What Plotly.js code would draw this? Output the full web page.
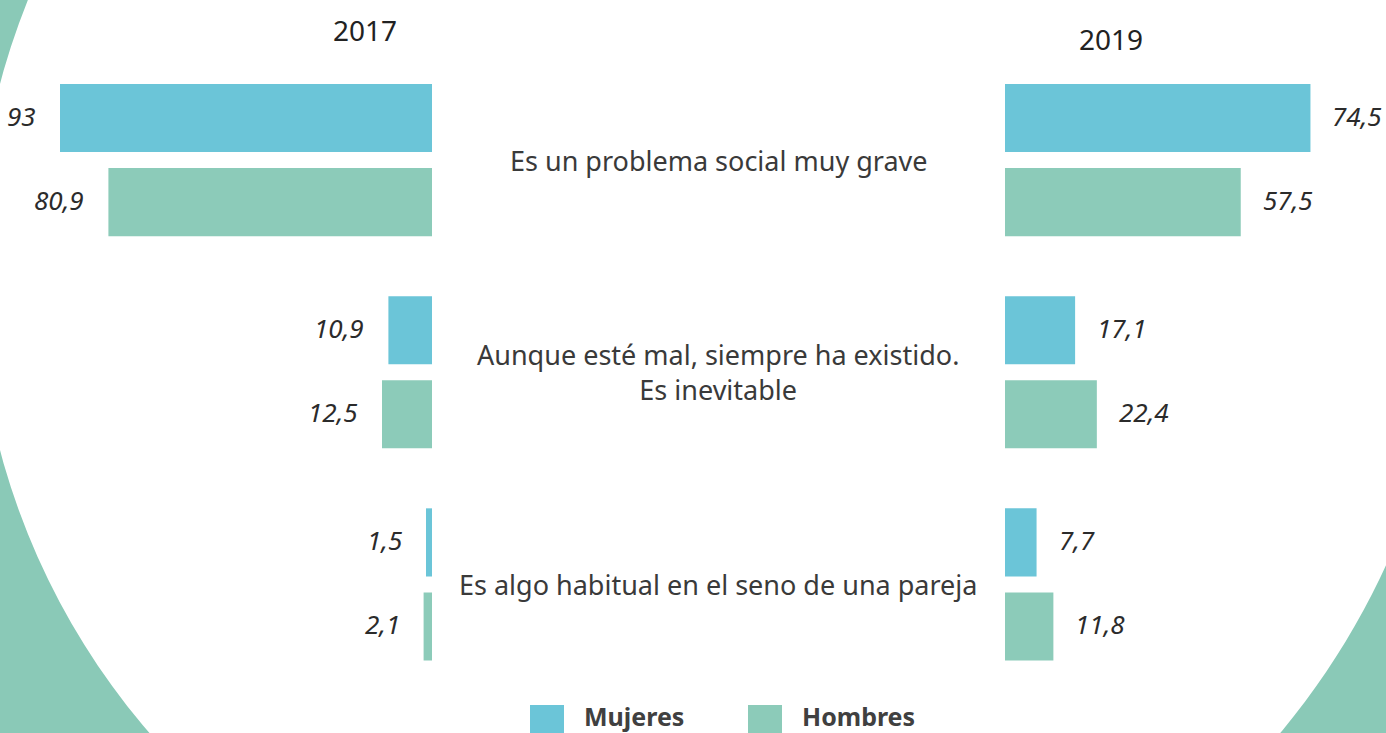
<!DOCTYPE html>
<html>
<head>
<meta charset="utf-8">
<script src="https://cdn.plot.ly/plotly-3.0.1.min.js"></script>
<style>
  body { margin: 0; background: #fff; }
  #chart { width: 1386px; height: 733px; }
</style>
</head>
<body>
<div id="chart"></div>
<script>
let categorias = [
  'Es un problema social muy grave',
  'Aunque esté mal, siempre ha existido.<br>Es inevitable',
  'Es algo habitual en el seno de una pareja'
]
let years = ['2017', '2019']
let series = ['Mujeres', 'Hombres']
let mujeres2017 = [93, 10.9, 1.5]
let hombres2017 = [80.9, 12.5, 2.1]
let mujeres2019 = [74.5, 17.1, 7.7]
let hombres2019 = [57.5, 22.4, 11.8]

let W = 1386
let H = 733
let colors = {Mujeres: '#6bc5d8', Hombres: '#8ccbb9'}
let font = '"Noto Sans", Lato, sans-serif'

// pixel -> paper
function px (x) { return x / W }
function py (y) { return 1 - y / H }

// teal arcs behind the chart
function arcPath (cx, cy, r, t0, t1, tail) {
  let pts = []
  for (let i = 0; i <= 80; i++) {
    let t = (t0 + (t1 - t0) * i / 80) * Math.PI / 180
    pts.push([cx + r * Math.cos(t), cy + r * Math.sin(t)])
  }
  pts = pts.concat(tail)
  return pts.map((p, i) => (i ? 'L' : 'M') + px(p[0]).toFixed(5) + ',' + py(p[1]).toFixed(5)).join(' ') + ' Z'
}
let leftBg = arcPath(689, 267, 713, 100, 260, [[-1000, -435], [-1000, 969]])
let rightBg = arcPath(700, 250, 755, -10, 100, [[569, 2000], [2500, 2000], [2500, 119]])

function fmt (v) { return String(v).replace('.', ',') }

function barTrace (name, values, xaxis) {
  return {
    type: 'bar',
    orientation: 'h',
    name: name,
    x: values,
    y: categorias,
    xaxis: xaxis,
    yaxis: 'y',
    marker: {color: colors[name]},
    hoverinfo: 'x',
    showlegend: false
  }
}

let traces = [
  barTrace('Mujeres', mujeres2017, 'x'),
  barTrace('Hombres', hombres2017, 'x'),
  barTrace('Mujeres', mujeres2019, 'x2'),
  barTrace('Hombres', hombres2019, 'x2')
]

let annotations = []
// value labels
traces.forEach(function (t) {
  let left = t.xaxis === 'x'
  t.x.forEach(function (v, i) {
    annotations.push({
      xref: t.xaxis, yref: 'y',
      x: v, y: categorias[i],
      text: fmt(v),
      showarrow: false,
      xanchor: left ? 'right' : 'left',
      xshift: left ? -22 : 20,
      yshift: t.name === 'Mujeres' ? 44 : -40,
      font: {family: font, size: 26, color: '#2b2b2b', style: 'italic'}
    })
  })
})
// category labels in the middle
categorias.forEach(function (c) {
  annotations.push({
    xref: 'paper', yref: 'y',
    x: px(718), y: c,
    text: c,
    showarrow: false,
    xanchor: 'center',
    yanchor: 'middle',
    font: {family: font, size: 27, color: '#3a3a3a'}
  })
})
// year titles
annotations.push({xref: 'paper', yref: 'paper', x: px(365), y: py(30), text: years[0], showarrow: false,
  xanchor: 'center', yanchor: 'middle', font: {family: font, size: 28, color: '#222'}})
annotations.push({xref: 'paper', yref: 'paper', x: px(1111), y: py(39), text: years[1], showarrow: false,
  xanchor: 'center', yanchor: 'middle', font: {family: font, size: 28, color: '#222'}})

let shapes = [
  {type: 'path', xref: 'paper', yref: 'paper', path: leftBg, fillcolor: '#8ac9b7', line: {width: 0}, layer: 'below'},
  {type: 'path', xref: 'paper', yref: 'paper', path: rightBg, fillcolor: '#8ac9b7', line: {width: 0}, layer: 'below'}
]

// legend drawn by hand (big swatches)
let legendX = [530, 748]
series.forEach(function (s, i) {
  shapes.push({type: 'rect', xref: 'paper', yref: 'paper',
    x0: px(legendX[i]), x1: px(legendX[i] + 34), y0: py(739), y1: py(705),
    fillcolor: colors[s], line: {width: 0}})
  annotations.push({xref: 'paper', yref: 'paper', x: px(legendX[i] + 52), y: py(716), text: '<b>' + s + '</b>',
    showarrow: false, xanchor: 'left', yanchor: 'middle',
    font: {family: font, size: 25, color: '#404040'}})
})

let hidden = {
  showgrid: false, zeroline: false, showline: false, showticklabels: false, ticks: ''
}

let layout = {
  width: W,
  height: H,
  autosize: false,
  margin: {l: 0, r: 0, t: 0, b: 0, pad: 0},
  paper_bgcolor: '#ffffff',
  plot_bgcolor: 'rgba(0,0,0,0)',
  barmode: 'group',
  bargap: 0.2075,
  bargroupgap: 0.19,
  showlegend: false,
  xaxis: Object.assign({domain: [px(32), px(432)], range: [100, 0], fixedrange: true}, hidden),
  xaxis2: Object.assign({domain: [px(1005), px(1374)], range: [0, 90], anchor: 'y', fixedrange: true}, hidden),
  yaxis: Object.assign({domain: [py(690.5), py(54)], type: 'category', range: [2.5, -0.5], fixedrange: true}, hidden),
  annotations: annotations,
  shapes: shapes
}

Plotly.newPlot('chart', traces, layout, {displayModeBar: false, staticPlot: true})
</script>
</body>
</html>
